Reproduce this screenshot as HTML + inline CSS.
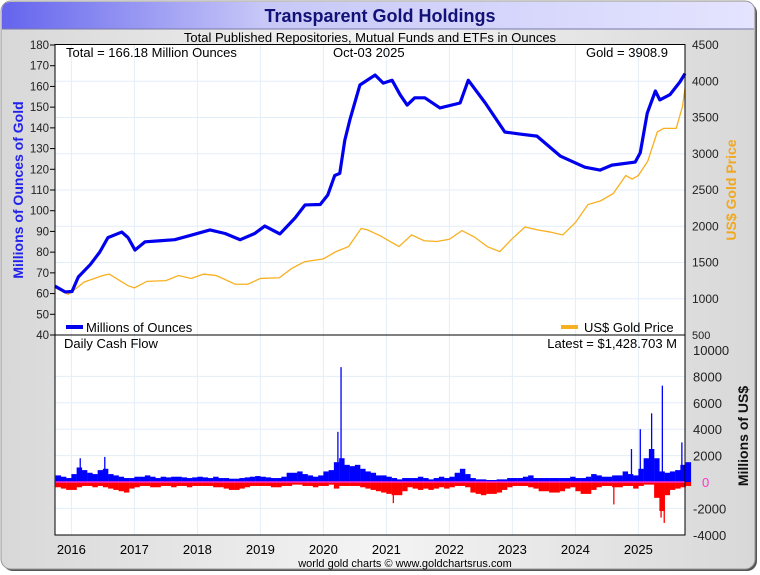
<!DOCTYPE html>
<html><head><meta charset="utf-8"><style>
body{margin:0;background:#fff;}
svg{display:block;font-family:"Liberation Sans",sans-serif;}
</style></head><body>
<svg id="chart" width="760" height="575" viewBox="0 0 760 575" xmlns="http://www.w3.org/2000/svg">
<defs>
<linearGradient id="bg" x1="0" x2="1" y1="0" y2="0"><stop offset="0" stop-color="#d8d8d8"/><stop offset="0.5" stop-color="#f4f4f4"/><stop offset="1" stop-color="#d8d8d8"/></linearGradient>
<linearGradient id="tb" x1="0" x2="1" y1="0" y2="0"><stop offset="0" stop-color="#6464ee"/><stop offset="0.35" stop-color="#c8c8f8"/><stop offset="1" stop-color="#e4e4ff"/></linearGradient>
</defs>
<rect x="3" y="3" width="754" height="568" rx="10" fill="#555"/>
<rect x="1" y="1" width="754" height="568" rx="10" fill="url(#bg)" stroke="#999"/>
<path d="M11,2 H745 Q754,2 754,11 V29 H2 V11 Q2,2 11,2 Z" fill="url(#tb)"/>
<line x1="2" y1="29" x2="754" y2="29" stroke="#7777aa"/>
<text x="380" y="22" text-anchor="middle" font-size="18" font-weight="bold" fill="#111177">Transparent Gold Holdings</text>
<text x="370" y="42" text-anchor="middle" font-size="13" fill="#000">Total Published Repositories, Mutual Funds and ETFs in Ounces</text>
<rect x="55" y="44.5" width="630" height="490.5" fill="#fff"/>
<g id="grid"></g>
<g id="cash"></g>
<g id="lines"></g>
<g id="axes"></g>
<rect x="55" y="44.5" width="630" height="490.5" fill="none" stroke="#000"/>
<line x1="55" y1="335" x2="685" y2="335" stroke="#000"/>
<text x="66" y="57" font-size="13">Total = 166.18 Million Ounces</text>
<text x="333" y="57" font-size="13">Oct-03  2025</text>
<text x="668" y="57" font-size="13" text-anchor="end">Gold = 3908.9</text>
<rect x="66" y="325" width="17" height="4" fill="#0000ee"/>
<text x="86" y="332" font-size="13">Millions of Ounces</text>
<rect x="561" y="325" width="17" height="4" fill="#f8b020"/>
<text x="584" y="332" font-size="13">US$ Gold Price</text>
<text x="64" y="348" font-size="13">Daily Cash Flow</text>
<text x="677" y="348" font-size="13" text-anchor="end">Latest = $1,428.703 M</text>
<text transform="translate(23,190) rotate(-90)" text-anchor="middle" font-size="14" font-weight="bold" fill="#2222ee">Millions of Ounces of Gold</text>
<text transform="translate(736,190) rotate(-90)" text-anchor="middle" font-size="14" font-weight="bold" fill="#f0a820">US$ Gold Price</text>
<text transform="translate(748,436) rotate(-90)" text-anchor="middle" font-size="14" font-weight="bold" fill="#111">Millions of US$</text>
<text x="405" y="567" text-anchor="middle" font-size="11">world gold charts © www.goldchartsrus.com</text>
</svg>
<script>
const holdYears=[2015.74,2015.90,2016.01,2016.11,2016.30,2016.45,2016.58,2016.80,2016.90,2017.01,2017.17,2017.41,2017.64,2017.88,2018.20,2018.44,2018.68,2018.91,2019.07,2019.31,2019.55,2019.71,2019.95,2020.07,2020.18,2020.26,2020.34,2020.42,2020.58,2020.82,2020.95,2021.09,2021.22,2021.33,2021.45,2021.61,2021.85,2022.17,2022.30,2022.57,2022.88,2023.12,2023.39,2023.76,2024.15,2024.39,2024.58,2024.95,2025.03,2025.14,2025.27,2025.34,2025.50,2025.66,2025.74];
const holdValues=[63.6,60.8,61,68,74,80,87,89.7,87,81,85,85.5,86,88,90.7,89,86,89,92.6,88.8,96.5,102.8,103,107.6,117,118,134,143.8,160.7,165.5,161.6,163,155.9,151,154.5,154.5,149.6,152,163,152,138,137,136,126.4,121,119.6,122,123.5,128,147,157.8,153.5,156,162.2,166.2];
const goldYears=[2015.75,2015.95,2016.0,2016.2,2016.5,2016.6,2016.9,2017.0,2017.2,2017.5,2017.7,2017.9,2018.1,2018.3,2018.6,2018.8,2019.0,2019.3,2019.5,2019.7,2020.0,2020.2,2020.4,2020.6,2020.7,2020.9,2021.2,2021.4,2021.6,2021.8,2022.0,2022.2,2022.4,2022.6,2022.8,2023.0,2023.2,2023.4,2023.6,2023.8,2024.0,2024.2,2024.4,2024.6,2024.8,2024.9,2025.0,2025.15,2025.3,2025.4,2025.6,2025.7,2025.74];
const goldValues=[1150,1060,1090,1230,1320,1340,1180,1150,1240,1250,1320,1280,1340,1320,1200,1200,1280,1290,1420,1510,1550,1650,1720,1970,1950,1870,1720,1880,1800,1790,1820,1940,1850,1720,1650,1830,1990,1950,1920,1880,2050,2300,2350,2450,2700,2650,2700,2900,3300,3350,3350,3650,3900];
const cashStart=2015.75;
const cashInflow=[500,400,300,
600,1100,900,700,600,900,1000,600,500,400,300,300,
400,400,500,400,300,400,350,400,400,350,300,350,
400,350,300,400,300,300,250,250,300,350,400,450,
400,350,300,300,400,700,700,800,600,500,400,500,
800,900,1500,1800,1300,1200,1300,1000,800,700,500,500,
400,300,200,300,300,300,400,300,200,300,400,300,
400,700,1000,600,300,200,200,150,150,200,200,300,
300,300,400,500,300,300,300,300,300,300,300,400,
300,300,400,600,500,400,400,500,500,800,600,500,
1000,1800,2500,1800,800,700,800,900,1300,1500];
const cashOutflow=[-400,-500,-600,
-600,-400,-300,-300,-400,-300,-400,-500,-600,-700,-800,-500,
-400,-300,-300,-400,-400,-300,-300,-400,-300,-300,-400,-300,
-300,-300,-300,-400,-400,-500,-600,-600,-500,-400,-300,-300,
-300,-300,-400,-400,-300,-300,-200,-200,-300,-300,-400,-300,
-300,-200,-500,-300,-300,-300,-300,-400,-500,-600,-700,-800,
-900,-1000,-1000,-700,-400,-500,-600,-500,-600,-500,-400,-500,
-400,-300,-300,-400,-800,-900,-1000,-900,-900,-800,-600,-400,
-300,-300,-300,-400,-500,-700,-700,-800,-800,-700,-500,-400,
-700,-900,-900,-600,-400,-300,-300,-400,-400,-300,-300,-500,
-300,-200,-200,-1200,-2200,-1000,-600,-500,-400,-300];
const spikeYears=[2016.13,2016.52,2020.27,2020.22,2024.88,2025.02,2025.2,2025.37,2025.68,2025.4,2025.35,2024.6,2021.1];
const spikeValues=[1800,1900,8700,3800,2500,4000,5200,7300,3000,-3100,-2700,-1700,-1600];
const leftTicks=[40,50,60,70,80,90,100,110,120,130,140,150,160,170,180];
const rightTicks=[500,1000,1500,2000,2500,3000,3500,4000,4500];
const cashTicks=[-4000,-2000,0,2000,4000,6000,8000,10000];
const yearTicks=[2016,2017,2018,2019,2020,2021,2022,2023,2024,2025];

const NS="http://www.w3.org/2000/svg";
const X0=55,X1=685;
const xS=y=>X0+(y-2015.74)*63;
const yL=v=>335-(v-40)*290/140;
const yR=v=>335-(v-500)*290/4000;
const yC=v=>482-v*26.4/2000;
function mk(tag,attrs,parent){const e=document.createElementNS(NS,tag);for(const k in attrs)e.setAttribute(k,attrs[k]);parent.appendChild(e);return e;}
const grid=document.getElementById('grid'),cash=document.getElementById('cash'),lines=document.getElementById('lines'),axes=document.getElementById('axes');

yearTicks.forEach(t=>{
 const g=mk('line',{x1:xS(t),x2:xS(t),y1:44.5,y2:535,stroke:'#e2eef8'},grid);
 
 
 const tx=mk('text',{x:xS(t),y:554,'text-anchor':'middle','font-size':13},axes);
 tx.textContent=t;
 
 
});
rightTicks.forEach(t=>{
 if(t>500&&t<4500){const g=mk('line',{x1:X0,x2:X1,y1:yR(t),y2:yR(t),stroke:'#e2eef8'},grid);
 
 }
 const tx=mk('text',{x:692,y:yR(t)+4,'font-size':t===500?11:12,fill:'#222'},axes);
 tx.textContent=t;
 
 
});
leftTicks.forEach(t=>{
 const l=mk('line',{x1:50,x2:55,y1:yL(t),y2:yL(t),stroke:'#000'},axes);
 
 
 const tx=mk('text',{x:49,y:yL(t)+4,'text-anchor':'end','font-size':11.5,fill:'#222'},axes);
 tx.textContent=t;
 
 
});
cashTicks.forEach(t=>{
 if(t!==0&&t!==-4000&&t!==10000){const g=mk('line',{x1:X0,x2:X1,y1:yC(t),y2:yC(t),stroke:'#e2eef8'},grid);
 
 }
 const tx=mk('text',{x:t===0?702:693,y:yC(t)+5,'font-size':13,fill:t===0?'#ff33cc':'#222'},axes);
 tx.textContent=t;
 
 
});
// cash bars
const mw=63/12;
cashInflow.forEach((v,i)=>{
 const x=xS(cashStart+i/12);
 const r=mk('rect',{x:x,y:yC(v),width:mw+0.2,height:yC(0)-yC(v),fill:'#0000ff'},cash);
 
 
});
cashOutflow.forEach((v,i)=>{
 const x=xS(cashStart+i/12);
 const r=mk('rect',{x:x,y:yC(0),width:mw+0.2,height:yC(v)-yC(0),fill:'#ff0000'},cash);
 
 
});
spikeYears.forEach((yy,i)=>{
 const v=spikeValues[i];
 const r=mk('rect',{x:xS(yy),y:Math.min(yC(v),yC(0)),width:1.3,height:Math.abs(yC(v)-yC(0)),fill:v>0?'#0000ff':'#ff0000'},cash);
 
 
});
const z=mk('line',{x1:X0,x2:X1,y1:yC(0),y2:yC(0),stroke:'#ff33cc','stroke-width':1.5},cash);


// lines
const gp=mk('polyline',{points:goldYears.map((y,i)=>xS(y)+','+yR(goldValues[i])).join(' '),fill:'none',stroke:'#f8b020','stroke-width':1.3},lines);


const hp=mk('polyline',{points:holdYears.map((y,i)=>xS(y)+','+yL(holdValues[i])).join(' '),fill:'none',stroke:'#0000ee','stroke-width':3.2,'stroke-linejoin':'round'},lines);


</script>
</body></html>
